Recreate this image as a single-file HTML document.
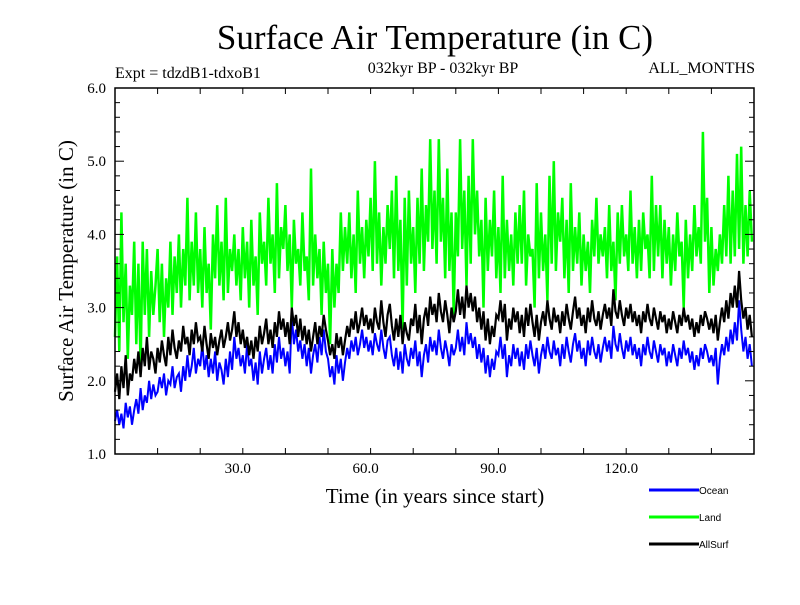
<!DOCTYPE html>
<html><head><meta charset="utf-8"><style>
body{margin:0;background:#fff;}
svg text{font-family:"Liberation Serif",serif;fill:#000;}
</style></head><body>
<svg width="800" height="600" xmlns="http://www.w3.org/2000/svg">
<text x="435" y="49" font-size="35" text-anchor="middle">Surface Air Temperature (in C)</text>
<text x="115" y="78" font-size="16">Expt = tdzdB1-tdxoB1</text>
<text x="443" y="73" font-size="16" text-anchor="middle">032kyr BP - 032kyr BP</text>
<text x="755" y="73" font-size="16" text-anchor="end">ALL_MONTHS</text>
<g id="series"></g>
<g id="axes"></g>
<text x="435" y="503" font-size="21" text-anchor="middle">Time (in years since start)</text>
<text transform="translate(73,271) rotate(-90)" font-size="21" text-anchor="middle">Surface Air Temperature (in C)</text>
<g id="legend"></g>
</svg>
<script>
const xTicksLabeled=[30,60,90,120];
const yTicks=[1,2,3,4,5,6];
const seriesNames=["Ocean","Land","AllSurf"];
const seriesColors=["#0000ff","#00ff00","#000000"];
const ocean=[1.45,1.6,1.4,1.55,1.35,1.7,1.5,1.65,1.4,1.6,
1.75,1.55,1.9,1.6,1.8,1.7,2.0,1.75,1.95,1.8,
1.85,2.05,1.9,2.1,1.8,2.0,1.95,2.2,1.9,2.05,
2.1,1.85,2.2,2.0,2.35,2.05,2.2,2.45,2.1,2.3,
2.2,2.5,2.15,2.35,2.05,2.3,2.1,2.4,2.0,2.25,
2.15,1.95,2.3,2.05,2.4,2.15,2.6,2.3,2.45,2.2,
2.35,2.1,2.5,2.2,2.3,2.0,2.25,1.95,2.4,2.1,
2.3,2.45,2.15,2.35,2.1,2.5,2.25,2.6,2.3,2.45,
2.2,2.4,2.1,2.9,2.5,2.7,2.4,2.55,2.3,2.5,
2.2,2.45,2.1,2.35,2.5,2.25,2.6,2.35,2.7,2.4,
2.3,2.05,2.2,1.95,2.35,2.1,2.3,2.0,2.25,2.45,
2.3,2.55,2.4,2.6,2.35,2.5,2.7,2.45,2.6,2.4,
2.55,2.35,2.65,2.5,2.4,2.7,2.45,2.3,2.55,2.6,
2.35,2.2,2.45,2.15,2.4,2.1,2.5,2.3,2.2,2.45,
2.3,2.55,2.2,2.4,2.05,2.35,2.5,2.25,2.6,2.4,
2.55,2.35,2.7,2.45,2.3,2.55,2.4,2.2,2.5,2.35,
2.45,2.7,2.4,2.6,2.35,2.8,2.5,2.65,2.45,2.6,
2.3,2.5,2.25,2.45,2.1,2.35,2.05,2.3,2.15,2.4,
2.35,2.6,2.3,2.5,2.05,2.35,2.2,2.5,2.3,2.45,
2.2,2.4,2.15,2.5,2.3,2.55,2.35,2.2,2.45,2.1,
2.35,2.5,2.3,2.6,2.4,2.3,2.55,2.35,2.45,2.2,
2.5,2.3,2.6,2.4,2.25,2.5,2.65,2.4,2.55,2.3,
2.45,2.2,2.55,2.35,2.6,2.4,2.3,2.5,2.25,2.45,
2.6,2.4,2.55,2.3,2.75,2.5,2.4,2.65,2.45,2.3,
2.55,2.4,2.6,2.35,2.5,2.3,2.45,2.2,2.5,2.35,
2.6,2.4,2.3,2.55,2.4,2.25,2.5,2.35,2.45,2.2,
2.4,2.25,2.5,2.35,2.2,2.45,2.3,2.55,2.35,2.45,
2.25,2.4,2.15,2.35,2.2,2.45,2.3,2.5,2.4,2.25,
2.35,2.2,2.45,1.95,2.3,2.5,2.35,2.6,2.4,2.7,
2.5,2.8,2.55,3.1,2.7,2.4,2.6,2.3,2.5,2.2];
const allSurf=[1.85,2.1,1.75,2.2,1.9,2.35,1.8,2.1,2.0,2.3,
2.1,2.4,2.05,2.45,2.2,2.6,2.15,2.4,2.3,2.1,
2.45,2.25,2.55,2.35,2.2,2.6,2.35,2.7,2.45,2.3,
2.55,2.4,2.75,2.5,2.6,2.35,2.7,2.5,2.8,2.55,
2.6,2.4,2.75,2.5,2.3,2.65,2.45,2.6,2.35,2.55,
2.7,2.45,2.6,2.8,2.55,2.7,2.95,2.6,2.8,2.5,
2.7,2.45,2.6,2.35,2.55,2.3,2.6,2.4,2.75,2.5,
2.65,2.85,2.5,2.7,2.45,2.8,2.6,2.95,2.7,2.85,
2.6,2.8,2.5,3.0,2.75,2.9,2.6,2.85,2.55,2.75,
2.5,2.7,2.4,2.6,2.8,2.5,2.75,2.6,2.9,2.7,
2.55,2.35,2.5,2.3,2.65,2.45,2.6,2.35,2.55,2.75,
2.6,2.85,2.7,2.95,2.65,2.8,3.0,2.75,2.9,2.7,
2.85,2.65,3.0,2.8,2.7,3.1,2.8,2.6,2.9,3.05,
2.75,2.55,2.85,2.6,2.9,2.5,2.8,2.65,2.55,2.85,
2.75,3.05,2.65,2.9,2.5,2.85,3.0,2.75,3.15,2.9,
3.05,2.8,3.2,2.95,2.8,3.1,2.9,2.65,3.0,2.8,
2.95,3.25,2.9,3.15,2.85,3.3,3.0,3.2,2.95,3.15,
2.8,3.0,2.7,2.95,2.55,2.85,2.5,2.75,2.6,2.9,
2.85,3.1,2.8,3.05,2.55,2.85,2.7,3.0,2.8,2.95,
2.65,2.9,2.6,3.0,2.75,3.05,2.8,2.6,2.9,2.55,
2.8,2.95,2.75,3.1,2.85,2.7,3.0,2.8,2.9,2.65,
2.95,2.75,3.05,2.85,2.7,2.95,3.15,2.85,3.0,2.75,
2.9,2.65,3.0,2.8,3.1,2.85,2.75,2.95,2.7,2.9,
3.05,2.85,3.0,2.75,3.25,2.95,2.85,3.1,2.9,2.75,
3.0,2.85,3.05,2.8,2.95,2.75,2.9,2.65,2.95,2.8,
3.05,2.85,2.75,3.0,2.85,2.7,2.95,2.8,2.9,2.65,
2.85,2.7,2.95,2.8,2.65,2.9,2.75,3.0,2.8,2.9,
2.7,2.85,2.6,2.8,2.65,2.9,2.75,2.95,2.85,2.7,
2.85,2.65,2.9,2.55,2.8,3.0,2.8,3.1,2.85,3.2,
3.0,3.3,3.0,3.5,3.1,2.85,3.0,2.7,2.9,2.6];
const land=[2.6,3.7,2.4,4.3,2.8,3.6,2.3,3.3,2.9,3.9,
2.5,3.6,2.2,3.9,2.9,3.8,2.6,3.5,2.9,3.3,
3.8,2.8,3.6,2.6,3.4,3.0,3.9,2.9,3.7,3.2,
4.0,3.0,3.8,3.3,4.5,3.1,3.9,3.3,4.3,3.2,
3.8,3.0,4.1,3.2,3.6,2.7,4.0,3.4,4.4,3.3,
3.9,3.1,4.5,3.2,3.8,3.5,4.0,3.3,3.8,3.1,
4.1,3.4,3.9,3.0,4.2,3.3,3.7,2.9,4.3,3.6,
3.9,3.3,4.5,3.6,4.0,3.2,4.7,3.4,4.1,3.8,
4.4,3.5,4.0,3.0,4.2,3.6,3.8,3.3,4.3,3.5,
3.7,3.1,4.9,3.3,4.0,3.4,3.8,2.9,3.9,3.2,
3.6,2.5,3.8,3.0,3.6,3.2,4.3,3.5,4.1,3.6,
4.3,3.4,4.0,3.2,4.6,3.6,4.1,3.4,4.2,3.7,
4.5,3.5,5.0,3.6,4.3,3.3,4.1,3.6,4.4,3.8,
4.6,3.4,4.8,3.5,4.2,2.7,4.5,3.3,4.6,3.6,
4.1,3.2,4.5,3.6,4.9,3.5,4.4,3.9,5.3,3.8,
4.6,3.6,5.3,3.9,4.5,3.4,4.9,3.5,4.3,2.9,
4.3,3.7,5.3,3.8,4.6,3.3,4.8,3.6,5.3,4.0,
4.6,3.7,4.2,3.0,4.5,3.5,4.2,3.7,4.6,3.4,
4.1,3.2,4.8,3.4,4.2,3.5,4.0,3.3,4.3,3.6,
4.4,3.6,4.6,3.3,4.0,3.7,3.8,3.0,4.7,3.4,
4.3,3.5,4.0,3.1,4.8,3.6,5.0,3.5,4.3,3.9,
4.5,3.4,4.2,3.2,4.7,3.5,4.1,3.6,4.3,3.3,
4.0,3.5,3.9,3.2,4.2,3.7,4.5,3.6,4.0,3.7,
4.1,3.4,4.4,3.5,3.9,3.1,4.3,3.6,4.4,3.7,
4.0,3.5,4.6,3.6,4.1,3.4,4.2,3.5,4.3,3.8,
4.0,3.4,4.8,3.5,4.4,3.7,4.4,3.4,4.2,3.6,
4.1,3.3,4.0,3.5,4.3,3.7,3.9,3.0,4.2,3.4,
4.0,3.5,4.4,3.7,4.1,3.6,5.4,3.9,4.5,3.2,
4.1,3.3,3.8,3.5,4.0,3.6,4.4,3.7,4.8,3.6,
4.6,3.7,5.1,3.8,5.2,3.6,4.4,3.7,4.6,3.9];
const X0=115,X1=754,Y0=88,Y1=454,XMIN=0,XMAX=150,YMIN=1,YMAX=6;
const sx=v=>X0+(v-XMIN)/(XMAX-XMIN)*(X1-X0);
const sy=v=>Y1-(v-YMIN)/(YMAX-YMIN)*(Y1-Y0);
const NS="http://www.w3.org/2000/svg";
function mk(t,a){const e=document.createElementNS(NS,t);for(const k in a)e.setAttribute(k,a[k]);return e;}
const sg=document.getElementById('series');
const widths=[2,2.5,2.2];
[ocean,land,allSurf].forEach((arr,i)=>{
  const pts=arr.map((v,j)=>sx(j*XMAX/arr.length).toFixed(1)+","+sy(v).toFixed(1)).join(" ");
  const pl=mk('polyline',{points:pts,fill:'none',stroke:seriesColors[i],'stroke-width':widths[i]});
  
  
  sg.appendChild(pl);
});
const ax=document.getElementById('axes');
const frame=mk('rect',{x:X0,y:Y0,width:X1-X0,height:Y1-Y0,fill:'none',stroke:'#000','stroke-width':1.5});


ax.appendChild(frame);
for(let t=10;t<XMAX;t+=10){
  const x=sx(t);
  ax.appendChild(mk('line',{x1:x,x2:x,y1:Y1,y2:Y1-6,stroke:'#000','stroke-width':1}));
  ax.appendChild(mk('line',{x1:x,x2:x,y1:Y0,y2:Y0+6,stroke:'#000','stroke-width':1}));
}
for(let v=YMIN;v<=YMAX+1e-9;v+=0.2){
  const y=sy(v);const maj=Math.abs(v-Math.round(v))<1e-6;const L=maj?9:5;
  ax.appendChild(mk('line',{x1:X0,x2:X0+L,y1:y,y2:y,stroke:'#000','stroke-width':1}));
  ax.appendChild(mk('line',{x1:X1,x2:X1-L,y1:y,y2:y,stroke:'#000','stroke-width':1}));
}
xTicksLabeled.forEach(t=>{
  const tx=mk('text',{x:sx(t)-5,y:Y1+19,'font-size':15,'text-anchor':'middle'});
  tx.textContent=t.toFixed(1);
  
  
  ax.appendChild(tx);
});
yTicks.forEach(v=>{
  const tx=mk('text',{x:X0-9,y:sy(v)+5,'font-size':15,'text-anchor':'end'});
  tx.textContent=v.toFixed(1);
  
  
  ax.appendChild(tx);
});
const lg=document.getElementById('legend');
seriesNames.forEach((n,i)=>{
  const y=490+i*27;
  const ln=mk('line',{x1:649,x2:699,y1:y,y2:y,stroke:seriesColors[i],'stroke-width':3});
  
  
  lg.appendChild(ln);
  const tx=mk('text',{x:699,y:y+4,'font-size':10,style:'font-family:"Liberation Sans",sans-serif'});
  tx.textContent=n;
  
  
  lg.appendChild(tx);
});
</script>
</body></html>
